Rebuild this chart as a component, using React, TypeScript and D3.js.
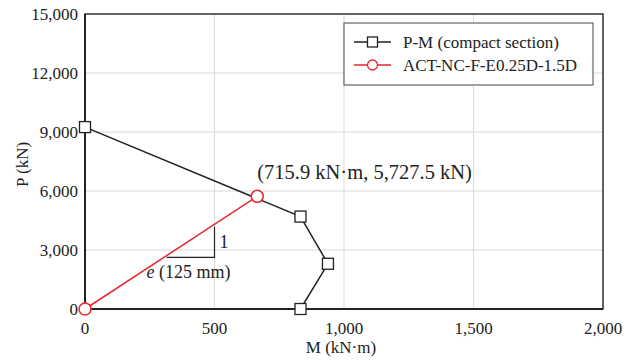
import React from 'react';
import * as d3 from 'd3';

// P-M interaction (compact section)
const pmMoment = [0, 832, 938, 832];
const pmAxial = [9250, 4700, 2300, 0];

// test result ACT-NC-F-E0.25D-1.5D
const actMoment = [0, 665];
const actAxial = [0, 5727.5];

// slope triangle e (125 mm)
const triM = [315, 500, 500];
const triP = [2630, 2630, 4185];

const xTicks = [0, 500, 1000, 1500, 2000];
const yTicks = [0, 3000, 6000, 9000, 12000, 15000];

const seriesNames = ['P-M (compact section)', 'ACT-NC-F-E0.25D-1.5D'];
const peakLabel = '(715.9 kN·m, 5,727.5 kN)';

const W = 634;
const H = 361;
const margin = { left: 85, right: 31, top: 14, bottom: 52 };
const RED = '#e8262d';
const FONT = '"Liberation Serif", "Times New Roman", serif';

export default function App() {
  const x = d3.scaleLinear().domain([0, 2000]).range([margin.left, W - margin.right]);
  const y = d3.scaleLinear().domain([0, 15000]).range([H - margin.bottom, margin.top]);
  const fmt = d3.format(',');

  const line = d3
    .line<[number, number]>()
    .x((d) => x(d[0]))
    .y((d) => y(d[1]));

  const pm: [number, number][] = pmMoment.map((m, i) => [m, pmAxial[i]]);
  const act: [number, number][] = actMoment.map((m, i) => [m, actAxial[i]]);
  const tri: [number, number][] = triM.map((m, i) => [m, triP[i]]);

  const x0 = x(0), x1 = x(2000), y0 = y(0), y1 = y(15000);
  const lg = { x: 344, y: 23, w: 249, h: 62 };

  return (
    <svg width={W} height={H} style={{ position: 'absolute', left: 0, top: 0 }} fontFamily={FONT}>
      <rect width={W} height={H} fill="#fff" />
      {/* grid */}
      {xTicks.slice(1, -1).map((t) => (
        <line key={'gx' + t} x1={x(t)} x2={x(t)} y1={y1} y2={y0} stroke="#d9d9d9" strokeWidth={1} />
      ))}
      {yTicks.slice(1, -1).map((t) => (
        <line key={'gy' + t} x1={x0} x2={x1} y1={y(t)} y2={y(t)} stroke="#d9d9d9" strokeWidth={1} />
      ))}
      {/* frame */}
      <rect x={x0} y={y1} width={x1 - x0} height={y0 - y1} fill="none" stroke="#222" strokeWidth={1.4} />
      <line x1={x0} x2={x0} y1={y1} y2={y0} stroke="#222" strokeWidth={2} />
      <line x1={x0} x2={x1} y1={y0} y2={y0} stroke="#222" strokeWidth={2} />
      {/* ticks */}
      {xTicks.map((t) => (
        <text key={'tx' + t} x={x(t)} y={y0 + 25} fontSize={17} textAnchor="middle" fill="#222">
          {fmt(t)}
        </text>
      ))}
      {yTicks.map((t) => (
        <text key={'ty' + t} x={x0 - 7} y={y(t) + 6} fontSize={17} textAnchor="end" fill="#222">
          {fmt(t)}
        </text>
      ))}
      <text x={(x0 + x1) / 2 - 3} y={H - 8} fontSize={17} textAnchor="middle" fill="#222">
        M (kN·m)
      </text>
      <text
        transform={`translate(28,${(y0 + y1) / 2 + 3}) rotate(-90)`}
        fontSize={17}
        textAnchor="middle"
        fill="#222"
      >
        P (kN)
      </text>

      {/* slope triangle */}
      <path d={line(tri) ?? ''} fill="none" stroke="#222" strokeWidth={1.2} />
      <text x={x(500) + 5} y={(y(triP[1]) + y(triP[2])) / 2 + 6} fontSize={18} fill="#222">
        1
      </text>
      <text x={(x(triM[0]) + x(triM[1])) / 2 - 2} y={y(triP[1]) + 21} fontSize={18} textAnchor="middle" fill="#222">
        <tspan fontStyle="italic">e</tspan> (125 mm)
      </text>

      {/* P-M curve */}
      <path d={line(pm) ?? ''} fill="none" stroke="#222" strokeWidth={1.5} />
      {pm.map((d, i) => (
        <rect key={'pm' + i} x={x(d[0]) - 5.5} y={y(d[1]) - 5.5} width={11} height={11} fill="#fff" stroke="#222" strokeWidth={1.3} />
      ))}

      {/* test */}
      <path d={line(act) ?? ''} fill="none" stroke={RED} strokeWidth={1.5} />
      {act.map((d, i) => (
        <circle key={'ac' + i} cx={x(d[0])} cy={y(d[1])} r={6} fill="#fff" stroke={RED} strokeWidth={1.5} />
      ))}
      <text x={x(actMoment[1])} y={y(actAxial[1]) - 17} fontSize={20.5} fill="#222">
        {peakLabel}
      </text>

      {/* legend */}
      <rect x={lg.x} y={lg.y} width={lg.w} height={lg.h} fill="#fff" stroke="#444" strokeWidth={1} />
      <line x1={lg.x + 10} x2={lg.x + 47} y1={lg.y + 19} y2={lg.y + 19} stroke="#222" strokeWidth={1.3} />
      <rect x={lg.x + 23.5} y={lg.y + 14} width={10} height={10} fill="#fff" stroke="#222" strokeWidth={1.3} />
      <text x={lg.x + 59} y={lg.y + 25} fontSize={17} fill="#222">
        {seriesNames[0]}
      </text>
      <line x1={lg.x + 10} x2={lg.x + 47} y1={lg.y + 42} y2={lg.y + 42} stroke={RED} strokeWidth={1.3} />
      <circle cx={lg.x + 28.5} cy={lg.y + 42} r={5} fill="#fff" stroke={RED} strokeWidth={1.3} />
      <text x={lg.x + 59} y={lg.y + 48} fontSize={17} fill="#222">
        {seriesNames[1]}
      </text>
    </svg>
  );
}
